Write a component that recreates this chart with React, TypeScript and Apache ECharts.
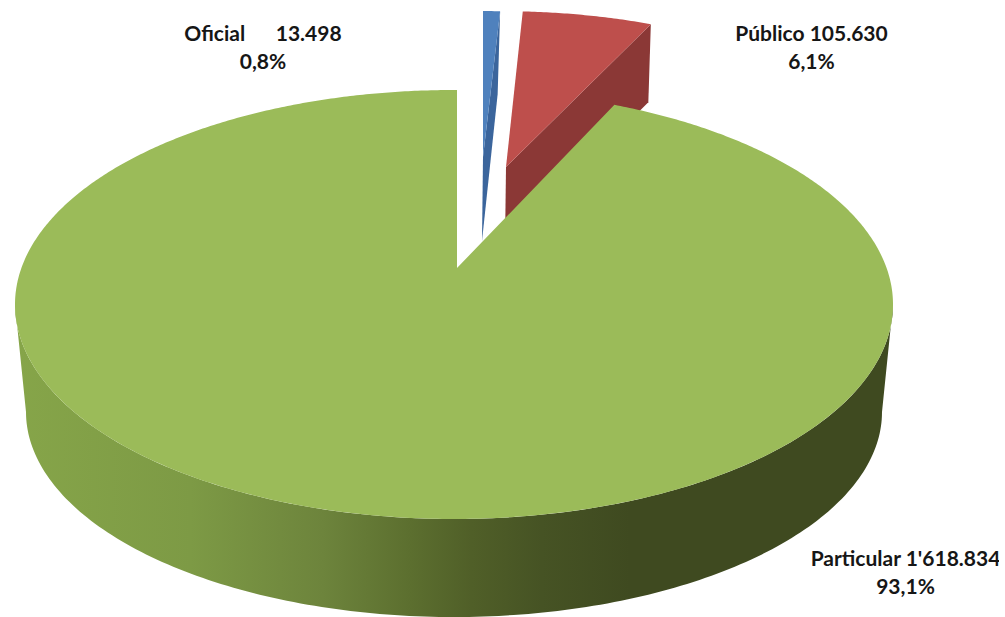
import React, { useEffect, useRef } from "react";
import * as echarts from "echarts";

// Vehicle counts per service type
const categories = ["Oficial", "Público", "Particular"];
const values = [13498, 105630, 1618834];
const valueLabels = ["      13.498", " 105.630", " 1'618.834"];
const shareLabels = ["0,8%", "6,1%", "93,1%"];

const topColors = ["#4F81BD", "#BE4F4C", "#9BBB59"];
const sideColors = ["#3B659C", "#8B3836", ""];
const labelAnchors = [
  [263, 46],
  [811.5, 46],
  [905.5, 571.5],
];

// Perspective disc: rim ellipse, bottom ellipse, and the projected centre
const rim = { cx: 454, cy: 304.5, rx: 439, ry: 214.5 };
const base = { cx: 454, cy: 412, rx: 428, ry: 205 };
const hub = { x: 457, y: 268 };
const ASPECT = 2.1;

// Exploded slices are shifted towards the back and foreshortened
const explode = [
  { x: 483, y: 157, sx: 0.94, sy: 0.82, depth: [84, 83] },
  { x: 506, y: 167, sx: 0.92, sy: 0.875, depth: [78, 78] },
];

function rimPoint(deg: number): [number, number] {
  const a = (deg * Math.PI) / 180;
  const dx = Math.sin(a) * ASPECT;
  const dy = -Math.cos(a);
  const ox = (hub.x - rim.cx) / rim.rx;
  const oy = (hub.y - rim.cy) / rim.ry;
  const ux = dx / rim.rx;
  const uy = dy / rim.ry;
  const A = ux * ux + uy * uy;
  const B = 2 * (ox * ux + oy * uy);
  const C = ox * ox + oy * oy - 1;
  const t = (-B + Math.sqrt(B * B - 4 * A * C)) / (2 * A);
  return [hub.x + dx * t, hub.y + dy * t];
}

function arcPoints(from: number, to: number): [number, number][] {
  const pts: [number, number][] = [];
  const n = Math.max(2, Math.ceil(Math.abs(to - from) * 2));
  for (let i = 0; i <= n; i++) pts.push(rimPoint(from + ((to - from) * i) / n));
  return pts;
}

function halfEllipse(e: { cx: number; cy: number; rx: number; ry: number }, reverse: boolean) {
  const pts: [number, number][] = [];
  for (let i = 0; i <= 180; i++) {
    const a = ((reverse ? 180 - i : i) * Math.PI) / 180;
    pts.push([e.cx + e.rx * Math.cos(a), e.cy + e.ry * Math.sin(a)]);
  }
  return pts;
}

const sideGradient = new echarts.graphic.LinearGradient(
  15,
  0,
  893,
  0,
  [
    { offset: 0, color: "#86A549" },
    { offset: 0.2, color: "#7D9A45" },
    { offset: 0.35, color: "#6D843C" },
    { offset: 0.45, color: "#5C6F2F" },
    { offset: 0.52, color: "#505F28" },
    { offset: 0.6, color: "#465324" },
    { offset: 0.7, color: "#3F4A20" },
    { offset: 1, color: "#3F4A20" },
  ],
  true
);

function renderSlice(params: any, api: any) {
  const i = params.dataIndex;
  const total = values.reduce((s, v) => s + v, 0);
  const start = (values.slice(0, i).reduce((s, v) => s + v, 0) / total) * 360;
  const end = start + (api.value(0) / total) * 360;
  const children: any[] = [];

  if (i === 2) {
    children.push({
      type: "polygon",
      shape: { points: [...halfEllipse(rim, false), ...halfEllipse(base, true)] },
      style: { fill: sideGradient },
    });
    children.push({
      type: "polygon",
      shape: { points: [[hub.x, hub.y], ...arcPoints(start, end)] },
      style: { fill: topColors[i] },
    });
    return { type: "group", children };
  }

  const ex = explode[i];
  const place = (p: [number, number]): [number, number] => [
    ex.x + (p[0] - hub.x) * ex.sx,
    ex.y + (p[1] - hub.y) * ex.sy,
  ];
  const arc = arcPoints(start, end).map(place);
  const last = arc[arc.length - 1];
  children.push({
    type: "polygon",
    shape: {
      points: [
        [ex.x, ex.y],
        last,
        [last[0] - 2.5, last[1] + ex.depth[1]],
        [ex.x - 1, ex.y + ex.depth[0]],
      ],
    },
    style: { fill: sideColors[i] },
  });
  children.push({
    type: "polygon",
    shape: { points: [[ex.x, ex.y], ...arc] },
    style: { fill: topColors[i] },
  });
  return { type: "group", children };
}

export default function App() {
  const ref = useRef<HTMLDivElement>(null);

  useEffect(() => {
    document.body.style.margin = "0";
    const chart = echarts.init(ref.current!, null, { renderer: "svg" });
    chart.setOption({
      animation: false,
      backgroundColor: "#ffffff",
      series: [
        {
          type: "custom",
          coordinateSystem: "none",
          data: values.map((v) => [v]),
          encode: { value: 0 },
          renderItem: renderSlice,
          silent: true,
        },
      ],
      graphic: categories.map((name, i) => ({
        type: "text",
        x: labelAnchors[i][0],
        y: labelAnchors[i][1],
        z: 10,
        style: {
          text: `${name}${valueLabels[i]}\n${shareLabels[i]}`,
          font: 'bold 21px Lato, "Open Sans", sans-serif',
          fill: "#161616",
          align: "center",
          verticalAlign: "middle",
          lineHeight: 28,
        },
      })),
    });
    return () => chart.dispose();
  }, []);

  return (
    <div
      ref={ref}
      style={{ position: "absolute", left: 0, top: 0, width: 999, height: 617, overflow: "hidden" }}
    />
  );
}
